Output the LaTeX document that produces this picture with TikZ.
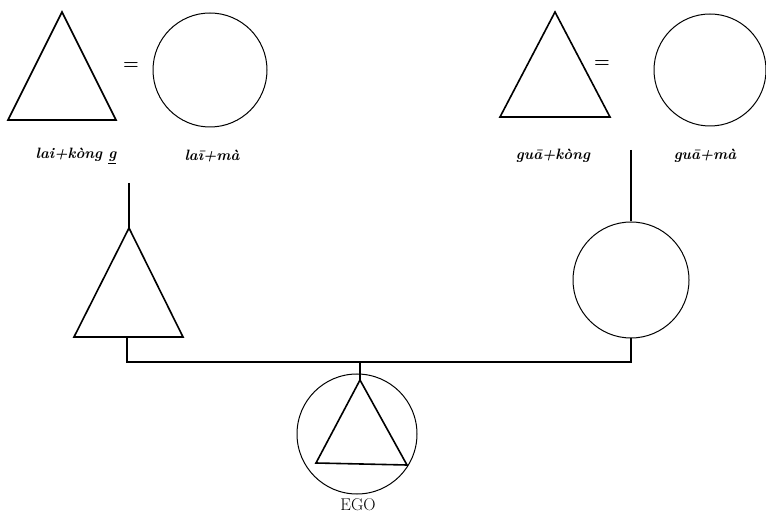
\documentclass[tikz,border=0pt]{standalone}
\usetikzlibrary{calc}
\begin{document}
\begin{tikzpicture}[x=1pt,y=-1pt,
  tri/.style={draw=black,line width=1.6pt,line join=miter},
  circ/.style={draw=black,line width=1pt,circle,minimum size=114pt,inner sep=0pt},
  link/.style={draw=black,line width=1.4pt},
  lbl/.style={font=\fontsize{15}{17}\selectfont\bfseries\itshape,inner sep=0pt},
  eq/.style={font=\fontsize{18}{18}\selectfont\bfseries,inner sep=0pt}]
\useasboundingbox (0,0) rectangle (766,521);
% top-left couple
\coordinate (tlA) at (62,12);
\coordinate (tlL) at (8,120);
\coordinate (tlR) at (116,120);
\draw[tri] (tlA) -- (tlL) -- (tlR) -- cycle;
\node[eq] (eqL) at (131,66) {=};
\node[circ] (tlC) at (210,70) {};
\node[lbl] (lab1) at (76,156) {lai+kòng \underline{g}};
\node[lbl] (lab2) at (212,156) {la\={\i}+mà};
% top-right couple
\coordinate (trA) at (555,12);
\coordinate (trL) at (500,117);
\coordinate (trR) at (610,117);
\draw[tri] (trA) -- (trL) -- (trR) -- cycle;
\node[eq] (eqR) at (602,64) {=};
\node[circ,minimum size=112pt] (trC) at (710,70) {};
\node[lbl] (lab3) at (553,156) {gu\={a}+kòng};
\node[lbl] (lab4) at (705,156) {gu\={a}+mà};
% middle generation
\coordinate (mlA) at (129,228);
\coordinate (mlL) at (74,337);
\coordinate (mlR) at (183,337);
\draw[tri] (mlA) -- (mlL) -- (mlR) -- cycle;
\node[circ,minimum size=116pt] (mrC) at (631,280) {};
% descent lines
\coordinate (d1) at (129,183);
\coordinate (d2) at (631,150);
\draw[link] (d1) -- (mlA);
\draw[link] (d2) -- (mrC.north);
% sibling/marriage bar
\coordinate (b1) at (127,337);
\coordinate (b2) at (127,362);
\coordinate (b3) at (631,362);
\coordinate (b4) at (360,362);
\draw[link] (b1) -- (b2) -- (b3) -- (mrC.south);
% EGO
\node[circ,minimum size=120pt] (egoC) at (357,434) {};
\coordinate (eA) at (360,380);
\coordinate (eL) at (316,463);
\coordinate (eR) at (407,465);
\draw[tri] (eA) -- (eL) -- (eR) -- cycle;
\draw[link] (b4) -- (eA);
\node[font=\fontsize{17}{19}\selectfont,inner sep=0pt] (ego) at (358,505) {EGO};
\end{tikzpicture}
\end{document}
